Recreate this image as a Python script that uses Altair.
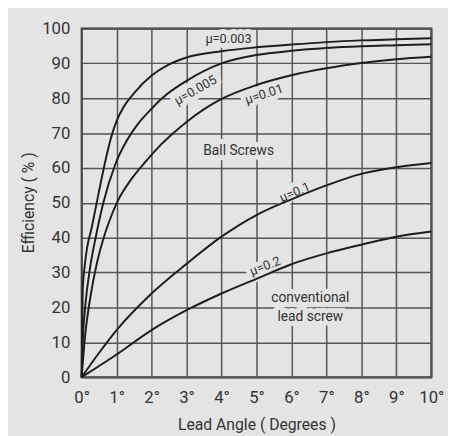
import altair as alt
import pandas as pd

# Curves (lead angle in degrees, efficiency in %)
angle_003 = [0, 0.03, 0.1, 0.3, 0.5, 0.7, 0.85, 1.0, 1.2, 1.5, 2.0, 2.5, 3, 4, 5, 6, 7, 8, 9, 10]
eff_003 = [0, 25, 33, 43.5, 53.5, 63, 69, 73.5, 77.5, 81.5, 86.5, 89.7, 91.7, 93.5, 94.6, 95.4, 96.1, 96.6, 96.9, 97.2]

angle_005 = [0, 0.03, 0.1, 0.25, 0.4, 0.62, 0.96, 1.3, 1.6, 2.0, 2.3, 3, 4, 5, 6, 7, 8, 9, 10]
eff_005 = [0, 10, 20, 32, 40, 50, 61, 68, 72.5, 77, 80, 85, 90, 92.4, 93.6, 94.4, 94.9, 95.2, 95.5]

angle_01 = [0, 0.1, 0.25, 0.42, 0.6, 0.8, 1.03, 1.4, 1.8, 2.2, 2.6, 3, 4, 5, 6, 7, 8, 9, 10]
eff_01 = [0, 12, 23, 32, 39, 45, 50.5, 56.5, 61.5, 66, 69.8, 73.2, 79.8, 83.8, 86.6, 88.6, 90.1, 91.2, 91.9]

angle_1 = [0, 0.5, 1, 2, 3, 4, 5, 6, 7, 8, 9, 10]
eff_1 = [0, 7, 13.5, 24, 32.5, 40.3, 46.5, 51, 55, 58.3, 60.2, 61.4]

angle_2 = [0, 1, 2, 3, 4, 5, 6, 7, 8, 9, 10]
eff_2 = [0, 6.5, 13.5, 19.2, 24, 28.2, 32.4, 35.5, 38, 40.3, 41.8]

# Annotation texts
label_text = ["μ=0.003", "μ=0.005", "μ=0.01", "μ=0.1", "μ=0.2", "Ball Screws", "conventional", "lead screw"]
label_x = [4.2, 3.26, 5.22, 6.1, 5.25, 4.49, 6.54, 6.54]
label_y = [96.9, 82.3, 81.1, 53.0, 31.8, 64.8, 22.8, 17.2]
label_angle = [0, 330, 342, 337, 339, 0, 0, 0]
label_size = [13, 13, 13, 13, 13, 14, 14, 14]

BG = "#e4e4e4"

rows = []
for mu, xs, ys in [("0.003", angle_003, eff_003), ("0.005", angle_005, eff_005),
                   ("0.01", angle_01, eff_01), ("0.1", angle_1, eff_1), ("0.2", angle_2, eff_2)]:
    for a, e in zip(xs, ys):
        rows.append({"mu": mu, "angle": a, "eff": e})
df = pd.DataFrame(rows)

labels = pd.DataFrame({"text": label_text, "x": label_x, "y": label_y,
                       "angle": label_angle, "size": label_size})

xscale = alt.Scale(domain=[0, 10], nice=False)
yscale = alt.Scale(domain=[0, 100], nice=False)
xaxis = alt.Axis(values=list(range(11)), labelExpr="datum.value + '°'",
                 title="Lead Angle ( Degrees )", titleY=48, titleBaseline="middle",
                 labelPadding=13, labelFlush=False, grid=True)
yaxis = alt.Axis(values=list(range(0, 101, 10)), title="Efficiency ( % )",
                 titleX=-54, titleY=177, titleBaseline="middle", titleAngle=-90,
                 labelPadding=12, labelFlush=False, grid=True)

lines = alt.Chart(df).mark_line(color="#1e1e1e", strokeWidth=2, interpolate="monotone").encode(
    x=alt.X("angle:Q", scale=xscale, axis=xaxis, title="Lead Angle ( Degrees )"),
    y=alt.Y("eff:Q", scale=yscale, axis=yaxis, title="Efficiency ( % )"),
    detail="mu:N",
)

halo = alt.Chart(labels).mark_text(fill=BG, stroke=BG, strokeWidth=10, strokeJoin="round",
                                   font="Roboto").encode(
    x=alt.X("x:Q", scale=xscale, axis=xaxis, title="Lead Angle ( Degrees )"),
    y=alt.Y("y:Q", scale=yscale, axis=yaxis, title="Efficiency ( % )"),
    text="text:N",
    angle=alt.Angle("angle:Q", scale=None),
    size=alt.Size("size:Q", scale=None, legend=None),
)

texts = alt.Chart(labels).mark_text(color="#333333", font="Roboto").encode(
    x=alt.X("x:Q", scale=xscale, axis=xaxis, title="Lead Angle ( Degrees )"),
    y=alt.Y("y:Q", scale=yscale, axis=yaxis, title="Efficiency ( % )"),
    text="text:N",
    angle=alt.Angle("angle:Q", scale=None),
    size=alt.Size("size:Q", scale=None, legend=None),
)

chart = alt.layer(halo, lines, texts).properties(
    width=356, height=355,
    background=BG,
    padding={"left": 75, "top": 17, "right": 17, "bottom": 56},
    autosize=alt.AutoSizeParams(type="none"),
).configure_view(
    stroke="#333333", strokeWidth=2, fill=BG,
).configure_axis(
    domain=False, ticks=False,
    gridColor="#555555", gridWidth=1.5, gridOpacity=1,
    labelFont="Roboto", labelFontSize=17, labelColor="#333333",
    titleFont="Roboto", titleFontSize=16, titleColor="#333333", titleFontWeight="normal",
)

chart.save("out.html", embed_options={"renderer": "svg", "actions": False})
